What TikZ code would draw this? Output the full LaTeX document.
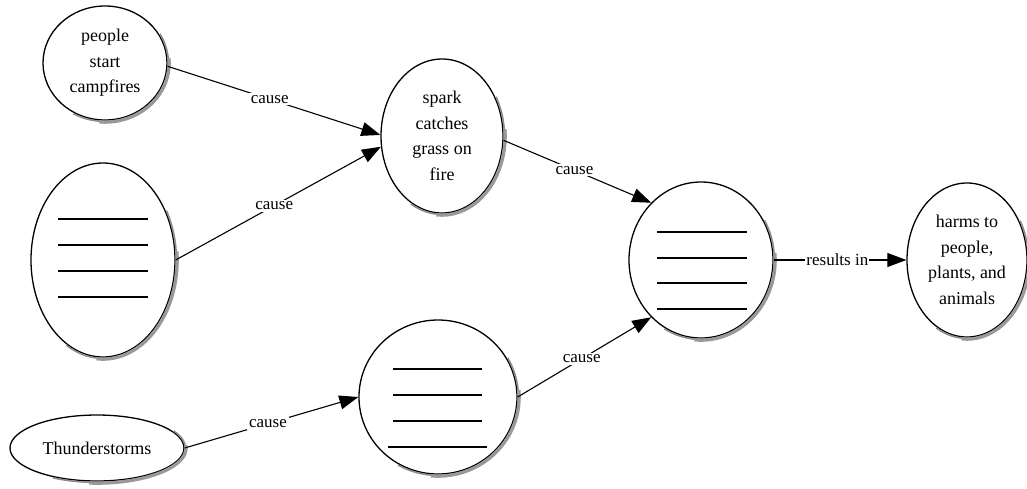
\documentclass[tikz,border=0pt]{standalone}
\usepackage{fontspec}
\setmainfont{Liberation Serif}
\usetikzlibrary{shapes.geometric,arrows.meta}

\tikzset{
  bubble/.style={ellipse, draw=black, line width=1.3pt, fill=white, inner sep=0pt,
    align=center, font=\fontsize{18}{25.5}\selectfont},
  link/.style={draw=black, line width=1.1pt, -{Triangle[length=19pt, width=14pt]}},
  lbl/.style={fill=white, inner sep=2pt, pos=0.48, font=\fontsize{17}{20}\selectfont},
  blank/.style={line width=1.6pt},
  rim thin/.style={draw=black!45, line width=1.6pt, line cap=butt},
  rim wide/.style={draw=black!40, line width=3.2pt, line cap=butt}
}

\begin{document}
\begin{tikzpicture}[x=1pt, y=-1pt]
  \useasboundingbox (0,0) rectangle (1027,488);

  % ellipses
  \node[bubble, minimum width=124pt, minimum height=114pt] (campfire) at (105,63)
    {people\\start\\campfires};
  \node[bubble, minimum width=144pt, minimum height=194pt] (blankA) at (103,260) {};
  \node[bubble, minimum width=174pt, minimum height=66pt] (storm) at (97,448)
    {Thunderstorms};
  \node[bubble, minimum width=122pt, minimum height=154pt] (spark) at (442,136)
    {spark\\catches\\grass on\\fire};
  \node[bubble, minimum width=158pt, minimum height=154pt] (blankB) at (438,397) {};
  \node[bubble, minimum width=144pt, minimum height=156pt] (blankC) at (701,260) {};
  \node[bubble, minimum width=120pt, minimum height=154pt] (harm) at (967,260)
    {harms to\\people,\\plants, and\\animals};

  % shadow rim along the lower right of each ellipse
  \foreach \n/\rx/\ry in {campfire/62/57, blankA/72/97, storm/87/33, spark/61/77,
                          blankB/79/77, blankC/72/78, harm/60/77} {
    \draw[rim thin] ([shift={(-30:{\rx+1.4} and {\ry+1.4})}]\n.center)
      arc[start angle=-30, end angle=120, x radius=\rx+1.4, y radius=\ry+1.4];
    \draw[rim wide] ([shift={(-5:{\rx+2.2} and {\ry+2.2})}]\n.center)
      arc[start angle=-5, end angle=95, x radius=\rx+2.2, y radius=\ry+2.2];
  }

  % write-in lines inside the empty ellipses
  \foreach \dy in {-41,-15,11,37}
    \draw[blank] ([shift={(-45,\dy)}]blankA.center) -- ++(90,0);
  \foreach \dy in {-28,-2,24}
    \draw[blank] ([shift={(-45,\dy)}]blankB.center) -- ++(89,0);
  \draw[blank] ([shift={(-50,50)}]blankB.center) -- ++(99,0);
  \foreach \dy in {-28,-2,23,49}
    \draw[blank] ([shift={(-44,\dy)}]blankC.center) -- ++(90,0);

  % connectors
  \draw[link] (campfire.-3) -- node[lbl]{cause} (spark.179);
  \draw[link] (blankA.east) -- node[lbl]{cause} (spark.190);
  \draw[link] (storm.east) -- node[lbl]{cause} (blankB.west);
  \draw[link] (spark.-4) -- node[lbl]{cause} (blankC.131);
  \draw[link] (blankB.east) -- node[lbl]{cause} (blankC.229);
  \draw[link] (blankC.east) -- node[lbl, inner sep=1pt]{results in} (harm.west);
\end{tikzpicture}
\end{document}
